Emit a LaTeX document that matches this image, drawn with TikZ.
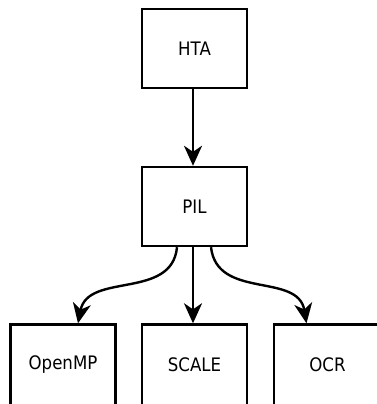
\documentclass[tikz,border=0pt]{standalone}
\usepackage{fontspec}
\setmainfont{DejaVu Sans}
\usetikzlibrary{arrows.meta}
\newcommand{\uptext}[1]{\raisebox{4pt}[\height][\depth]{#1}}
\newcommand{\tall}[1]{\scalebox{1}[1.12]{#1}}
\begin{document}
\begin{tikzpicture}[x=1pt,y=-1pt,
  box/.style={draw=black,line width=2.4pt,minimum width=105pt,minimum height=79pt,inner sep=0pt,font=\fontsize{16.6}{19}\selectfont},
  lowbox/.style={box,minimum height=88pt},
  conn/.style={line width=2.4pt,-{Stealth[length=20pt,width=18pt,inset=6pt]}}]
\useasboundingbox (0,0) rectangle (376,404);
\node[box] (hta) at (194.5,48.5) {\tall{HTA}};
\node[box] (pil) at (194.5,206.5) {\tall{PIL}};
\node[lowbox] (openmp) at (63,368.5) {\uptext{\tall{OpenMP}}};
\node[lowbox] (scale) at (194.5,368.5) {\uptext{\tall{SCALE}}};
\node[lowbox,minimum width=107pt] (ocr) at (327.5,368.5) {\uptext{\tall{OCR}}};
\draw[conn] ([xshift=-1.5pt]hta.south) -- ([xshift=-1.5pt]pil.north);
\draw[conn] ([xshift=-1.5pt]pil.south) -- ([xshift=-1.5pt]scale.north);
\draw[conn] ([xshift=-17.5pt]pil.south) .. controls (172,300) and (88,272) .. ([xshift=15pt]openmp.north);
\draw[conn] ([xshift=16.5pt]pil.south) .. controls (217,300) and (298,272) .. ([xshift=-21pt]ocr.north);
\end{tikzpicture}
\end{document}
